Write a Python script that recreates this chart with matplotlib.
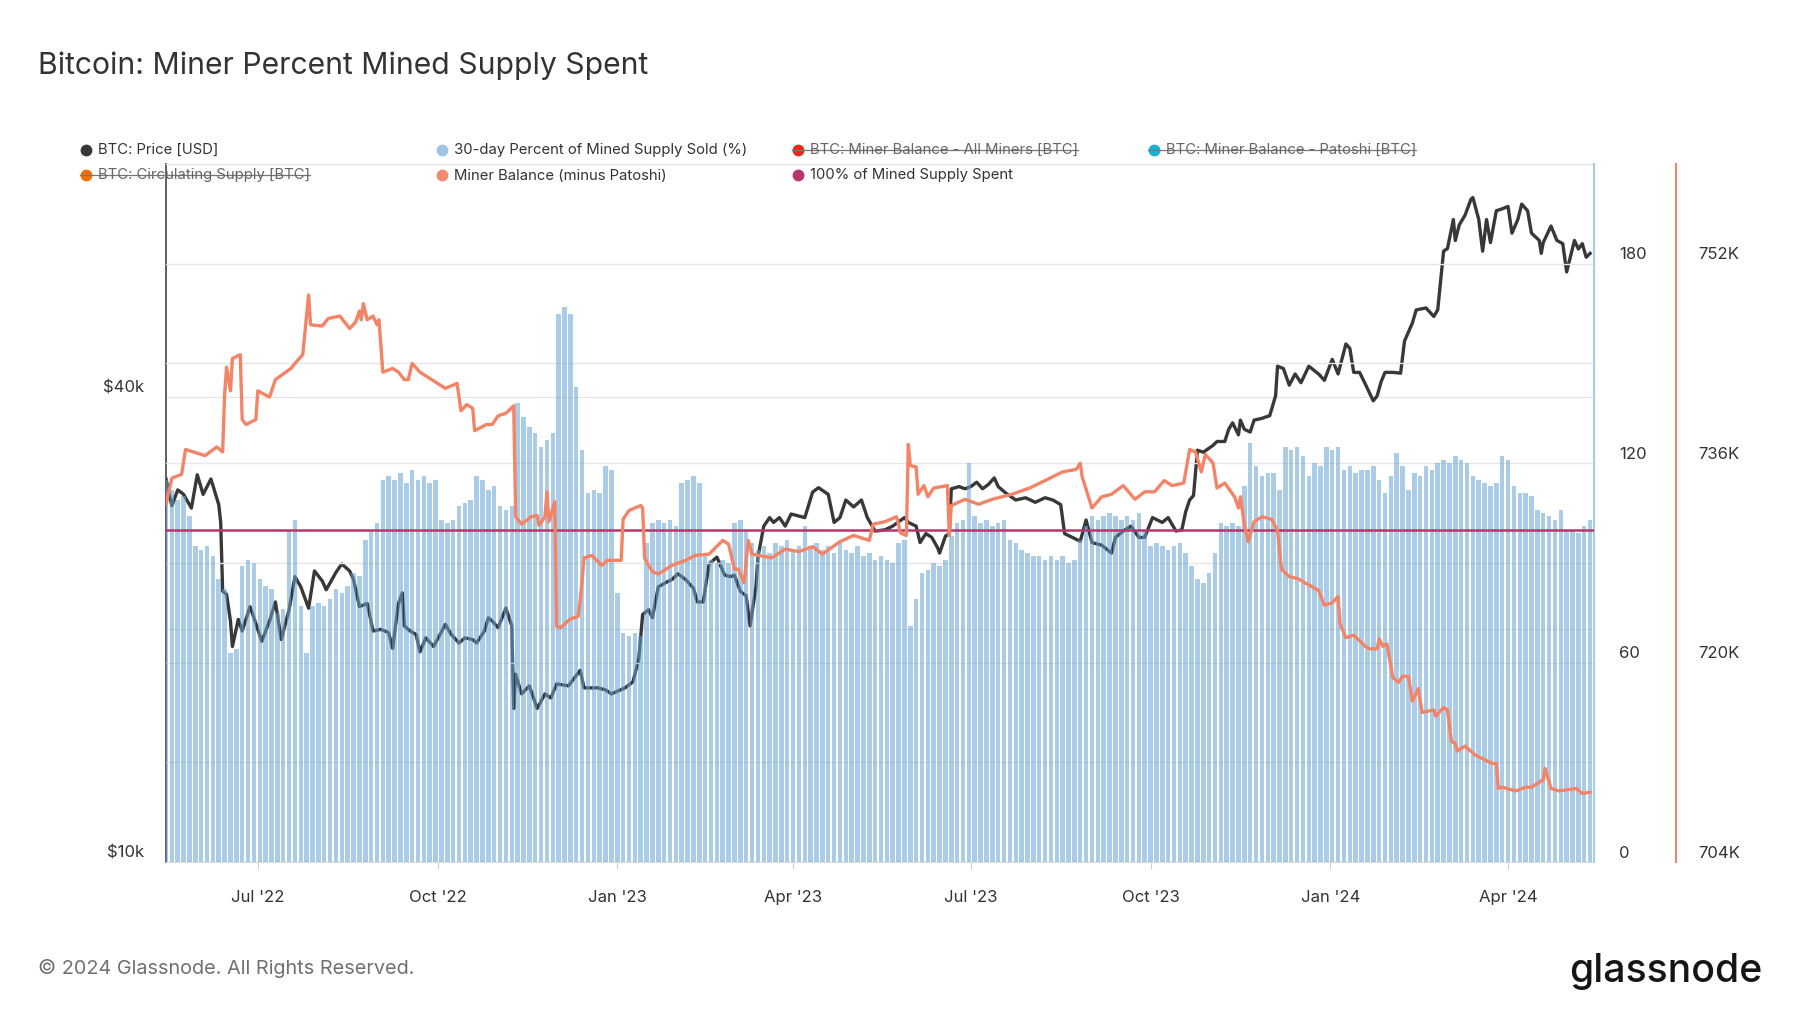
import matplotlib
matplotlib.use("Agg")
import matplotlib.pyplot as plt
import matplotlib.dates as mdates
from matplotlib.lines import Line2D
from matplotlib.ticker import NullLocator
import pandas as pd

# ---- data ----
# BTC price, thousands of USD
price_dates = [
    "2022-05-15", "2022-05-18", "2022-05-21", "2022-05-24", "2022-05-28", "2022-05-31",
    "2022-06-03", "2022-06-07", "2022-06-11", "2022-06-12", "2022-06-13", "2022-06-15",
    "2022-06-17", "2022-06-18", "2022-06-21", "2022-06-23", "2022-06-27", "2022-06-29",
    "2022-07-03", "2022-07-07", "2022-07-10", "2022-07-13", "2022-07-17", "2022-07-20",
    "2022-07-23", "2022-07-27", "2022-07-30", "2022-08-03", "2022-08-05", "2022-08-10",
    "2022-08-13", "2022-08-17", "2022-08-19", "2022-08-22", "2022-08-26", "2022-08-29",
    "2022-09-02", "2022-09-06", "2022-09-08", "2022-09-11", "2022-09-13", "2022-09-14",
    "2022-09-17", "2022-09-20", "2022-09-22", "2022-09-25", "2022-09-29", "2022-10-05",
    "2022-10-08", "2022-10-12", "2022-10-15", "2022-10-19", "2022-10-21", "2022-10-25",
    "2022-10-27", "2022-10-29", "2022-11-01", "2022-11-05", "2022-11-08", "2022-11-09",
    "2022-11-10", "2022-11-13", "2022-11-17", "2022-11-21", "2022-11-25", "2022-11-28",
    "2022-12-01", "2022-12-07", "2022-12-13", "2022-12-15", "2022-12-22", "2022-12-26",
    "2022-12-29", "2023-01-05", "2023-01-09", "2023-01-12", "2023-01-14", "2023-01-17",
    "2023-01-19", "2023-01-22", "2023-01-26", "2023-01-29", "2023-02-01", "2023-02-05",
    "2023-02-09", "2023-02-11", "2023-02-14", "2023-02-17", "2023-02-21", "2023-02-25",
    "2023-02-28", "2023-03-02", "2023-03-05", "2023-03-08", "2023-03-10", "2023-03-13",
    "2023-03-14", "2023-03-17", "2023-03-20", "2023-03-22", "2023-03-25", "2023-03-28",
    "2023-03-31", "2023-04-07", "2023-04-11", "2023-04-14", "2023-04-19", "2023-04-22",
    "2023-04-25", "2023-04-28", "2023-05-02", "2023-05-06", "2023-05-09", "2023-05-13",
    "2023-05-18", "2023-05-22", "2023-05-28", "2023-05-30", "2023-06-03", "2023-06-05",
    "2023-06-08", "2023-06-11", "2023-06-14", "2023-06-15", "2023-06-18", "2023-06-20",
    "2023-06-21", "2023-06-25", "2023-06-28", "2023-07-01", "2023-07-04", "2023-07-07",
    "2023-07-10", "2023-07-13", "2023-07-15", "2023-07-19", "2023-07-24", "2023-07-29",
    "2023-08-03", "2023-08-08", "2023-08-12", "2023-08-16", "2023-08-18", "2023-08-22",
    "2023-08-26", "2023-08-29", "2023-09-01", "2023-09-06", "2023-09-11", "2023-09-13",
    "2023-09-17", "2023-09-21", "2023-09-25", "2023-09-28", "2023-10-02", "2023-10-07",
    "2023-10-10", "2023-10-14", "2023-10-17", "2023-10-19", "2023-10-21", "2023-10-23",
    "2023-10-25", "2023-10-28", "2023-11-02", "2023-11-04", "2023-11-08", "2023-11-10",
    "2023-11-12", "2023-11-15", "2023-11-16", "2023-11-18", "2023-11-21", "2023-11-23",
    "2023-11-27", "2023-12-01", "2023-12-04", "2023-12-05", "2023-12-08", "2023-12-11",
    "2023-12-14", "2023-12-17", "2023-12-21", "2023-12-26", "2023-12-29", "2024-01-02",
    "2024-01-05", "2024-01-09", "2024-01-11", "2024-01-13", "2024-01-16", "2024-01-19",
    "2024-01-23", "2024-01-25", "2024-01-27", "2024-01-29", "2024-02-02", "2024-02-06",
    "2024-02-08", "2024-02-12", "2024-02-14", "2024-02-19", "2024-02-23", "2024-02-25",
    "2024-02-28", "2024-03-01", "2024-03-04", "2024-03-05", "2024-03-07", "2024-03-10",
    "2024-03-13", "2024-03-14", "2024-03-17", "2024-03-19", "2024-03-21", "2024-03-23",
    "2024-03-26", "2024-03-29", "2024-04-01", "2024-04-03", "2024-04-06", "2024-04-08",
    "2024-04-11", "2024-04-13", "2024-04-17", "2024-04-18", "2024-04-19", "2024-04-23",
    "2024-04-26", "2024-04-29", "2024-05-01", "2024-05-05", "2024-05-07", "2024-05-09",
    "2024-05-11", "2024-05-13",
]
price_k = [
    31.3, 28.9, 30.3, 29.9, 28.7, 31.7,
    29.9, 31.3, 29.0, 27.5, 22.4, 22.2,
    20.5, 19.0, 20.6, 19.9, 21.4, 20.7,
    19.3, 20.5, 21.7, 19.4, 21.2, 23.4,
    22.7, 21.3, 23.8, 23.1, 22.5, 23.7,
    24.3, 23.8, 23.2, 21.4, 21.6, 19.9,
    20.0, 19.8, 18.9, 21.6, 22.3, 20.2,
    19.9, 19.7, 18.7, 19.5, 19.0, 20.3,
    19.7, 19.2, 19.5, 19.4, 19.2, 19.9,
    20.7, 20.5, 20.1, 21.3, 20.2, 15.8,
    17.5, 16.5, 16.9, 15.8, 16.5, 16.3,
    17.0, 16.9, 17.7, 16.8, 16.8, 16.7,
    16.5, 16.8, 17.1, 18.3, 20.9, 21.2,
    20.7, 22.7, 23.0, 23.2, 23.6, 23.2,
    22.6, 21.7, 21.7, 24.3, 24.8, 23.5,
    23.4, 23.5, 22.4, 22.1, 20.2, 22.7,
    24.8, 27.2, 27.9, 27.5, 27.9, 27.2,
    28.2, 27.9, 30.1, 30.5, 29.9, 27.5,
    27.9, 29.4, 28.8, 29.4, 27.9, 26.8,
    26.9, 27.2, 27.9, 27.5, 27.2, 25.9,
    26.6, 26.3, 25.5, 25.1, 26.4, 26.6,
    30.4, 30.6, 30.4, 30.6, 31.0, 30.4,
    30.8, 31.4, 30.6, 30.0, 29.4, 29.6,
    29.2, 29.6, 29.4, 29.0, 26.6, 26.3,
    26.0, 27.7, 25.9, 25.7, 25.1, 26.3,
    26.8, 27.2, 26.3, 26.3, 27.9, 27.5,
    27.9, 26.8, 26.9, 28.4, 29.4, 29.8,
    34.1, 33.9, 34.6, 35.0, 35.0, 36.3,
    37.0, 35.7, 37.3, 36.3, 36.0, 37.3,
    37.5, 37.8, 40.1, 43.8, 43.5, 41.4,
    42.8, 41.7, 43.8, 42.8, 42.0, 44.7,
    42.8, 46.8, 46.2, 43.0, 43.0, 41.5,
    39.5, 40.1, 41.8, 43.0, 43.0, 42.9,
    47.2, 49.8, 51.8, 52.1, 50.8, 51.8,
    61.7, 62.2, 67.8, 63.7, 66.7, 68.7,
    72.0, 72.4, 67.8, 61.7, 67.8, 63.3,
    69.6, 70.0, 70.5, 65.1, 67.8, 71.0,
    69.6, 65.1, 63.7, 61.3, 63.3, 66.5,
    63.7, 63.1, 58.0, 63.7, 62.1, 63.1,
    60.6, 61.3,
]

# Miner balance (minus Patoshi), thousands of BTC
bal_dates = [
    "2022-05-15", "2022-05-18", "2022-05-23", "2022-05-25", "2022-06-04", "2022-06-10",
    "2022-06-13", "2022-06-14", "2022-06-15", "2022-06-17", "2022-06-18", "2022-06-22",
    "2022-06-23", "2022-06-25", "2022-06-30", "2022-07-01", "2022-07-07", "2022-07-10",
    "2022-07-18", "2022-07-20", "2022-07-24", "2022-07-27", "2022-07-28", "2022-08-03",
    "2022-08-06", "2022-08-12", "2022-08-17", "2022-08-20", "2022-08-22", "2022-08-23",
    "2022-08-24", "2022-08-26", "2022-08-29", "2022-08-31", "2022-09-01", "2022-09-03",
    "2022-09-08", "2022-09-11", "2022-09-14", "2022-09-16", "2022-09-18", "2022-09-22",
    "2022-09-28", "2022-10-05", "2022-10-11", "2022-10-13", "2022-10-16", "2022-10-19",
    "2022-10-20", "2022-10-26", "2022-10-29", "2022-11-01", "2022-11-05", "2022-11-09",
    "2022-11-10", "2022-11-13", "2022-11-18", "2022-11-21", "2022-11-22", "2022-11-25",
    "2022-11-26", "2022-11-27", "2022-11-30", "2022-12-01", "2022-12-03", "2022-12-08",
    "2022-12-12", "2022-12-13", "2022-12-15", "2022-12-19", "2022-12-24", "2022-12-27",
    "2023-01-03", "2023-01-04", "2023-01-07", "2023-01-13", "2023-01-14", "2023-01-15",
    "2023-01-17", "2023-01-19", "2023-01-22", "2023-01-29", "2023-02-05", "2023-02-10",
    "2023-02-17", "2023-02-24", "2023-02-27", "2023-03-02", "2023-03-04", "2023-03-07",
    "2023-03-09", "2023-03-11", "2023-03-21", "2023-03-28", "2023-04-04", "2023-04-11",
    "2023-04-16", "2023-04-25", "2023-05-02", "2023-05-10", "2023-05-12", "2023-05-18",
    "2023-05-24", "2023-05-26", "2023-05-29", "2023-05-30", "2023-05-31", "2023-06-03",
    "2023-06-04", "2023-06-07", "2023-06-09", "2023-06-12", "2023-06-19", "2023-06-20",
    "2023-06-21", "2023-06-28", "2023-07-05", "2023-07-12", "2023-07-22", "2023-07-31",
    "2023-08-08", "2023-08-17", "2023-08-24", "2023-08-26", "2023-08-27", "2023-09-01",
    "2023-09-06", "2023-09-11", "2023-09-17", "2023-09-23", "2023-09-28", "2023-10-03",
    "2023-10-08", "2023-10-12", "2023-10-18", "2023-10-21", "2023-10-24", "2023-10-27",
    "2023-10-29", "2023-11-02", "2023-11-04", "2023-11-08", "2023-11-13", "2023-11-15",
    "2023-11-16", "2023-11-18", "2023-11-20", "2023-11-23", "2023-11-27", "2023-12-02",
    "2023-12-05", "2023-12-07", "2023-12-11", "2023-12-16", "2023-12-19", "2023-12-26",
    "2023-12-29", "2024-01-02", "2024-01-05", "2024-01-06", "2024-01-09", "2024-01-13",
    "2024-01-19", "2024-01-21", "2024-01-25", "2024-01-26", "2024-01-28", "2024-01-30",
    "2024-02-02", "2024-02-05", "2024-02-07", "2024-02-10", "2024-02-12", "2024-02-15",
    "2024-02-17", "2024-02-23", "2024-02-24", "2024-02-28", "2024-03-01", "2024-03-03",
    "2024-03-05", "2024-03-06", "2024-03-10", "2024-03-15", "2024-03-24", "2024-03-26",
    "2024-03-27", "2024-03-29", "2024-04-05", "2024-04-10", "2024-04-13", "2024-04-19",
    "2024-04-20", "2024-04-23", "2024-04-27", "2024-05-06", "2024-05-09", "2024-05-13",
]
bal_k = [
    732.7, 734.8, 735.1, 737.1, 736.6, 737.3,
    736.9, 741.5, 743.7, 741.8, 744.4, 744.7,
    739.5, 739.1, 739.5, 741.8, 741.3, 742.7,
    743.6, 744.0, 744.7, 749.5, 747.1, 747.0,
    747.6, 747.8, 746.8, 747.3, 748.2, 747.5,
    748.8, 747.5, 747.8, 747.1, 747.5, 743.3,
    743.6, 743.3, 742.7, 742.7, 744.0, 743.3,
    742.7, 742.0, 742.4, 740.2, 740.7, 740.4,
    738.6, 739.1, 739.1, 739.8, 740.0, 740.6,
    731.7, 731.1, 731.7, 731.8, 731.0, 731.7,
    733.7, 731.3, 732.9, 722.9, 722.8, 723.5,
    723.7, 724.9, 728.4, 728.6, 727.8, 728.2,
    728.2, 731.5, 732.2, 732.6, 732.4, 728.4,
    727.8, 727.3, 727.1, 727.8, 728.2, 728.6,
    728.7, 729.8, 729.5, 727.5, 727.5, 726.4,
    729.8, 728.7, 728.4, 729.1, 728.9, 729.3,
    728.7, 729.7, 730.2, 729.8, 731.1, 731.3,
    731.7, 730.4, 730.2, 737.5, 735.8, 735.7,
    733.5, 734.2, 733.3, 734.0, 734.2, 730.2,
    732.6, 733.1, 732.7, 733.1, 733.5, 734.0,
    734.6, 735.3, 735.5, 736.0, 734.9, 732.4,
    733.3, 733.5, 734.2, 733.1, 733.7, 733.7,
    734.6, 734.2, 734.4, 737.1, 736.9, 735.3,
    736.7, 736.0, 734.0, 734.4, 733.3, 732.4,
    733.3, 731.1, 729.7, 731.3, 731.7, 731.5,
    730.6, 727.5, 726.9, 726.7, 726.4, 725.8,
    724.6, 724.8, 725.3, 723.1, 722.0, 722.2,
    721.3, 721.1, 721.1, 721.9, 721.3, 721.5,
    718.8, 718.4, 718.9, 718.9, 716.9, 717.9,
    716.0, 716.2, 715.7, 716.4, 716.2, 713.7,
    713.5, 712.9, 713.3, 712.6, 711.9, 711.9,
    709.9, 710.0, 709.7, 710.0, 710.0, 710.6,
    711.5, 709.9, 709.7, 709.9, 709.5, 709.6,
]

# 30-day percent of mined supply sold, one value every 3 days from pct_start
pct_start = "2022-05-15"
pct_step_days = 3
pct_sold = [
    115, 112, 109, 110, 104, 95, 94, 95, 92, 85,
    82, 63, 64, 89, 91, 90, 85, 83, 82, 75,
    76, 100, 103, 77, 63, 77, 78, 77, 79, 82,
    81, 83, 87, 86, 97, 100, 102, 115, 116, 115,
    117, 114, 118, 115, 116, 114, 115, 103, 102, 103,
    107, 108, 109, 116, 115, 112, 113, 107, 106, 107,
    138, 134, 131, 129, 125, 127, 129, 165, 167, 165,
    143, 124, 111, 112, 111, 119, 118, 81, 69, 68,
    69, 68, 96, 102, 103, 102, 103, 101, 114, 115,
    116, 114, 92, 91, 90, 91, 90, 102, 103, 100,
    96, 94, 95, 93, 96, 95, 97, 94, 95, 101,
    95, 96, 94, 95, 93, 96, 94, 93, 95, 92,
    93, 91, 92, 91, 90, 96, 97, 71, 79, 87,
    88, 90, 89, 91, 98, 102, 103, 120, 104, 102,
    103, 101, 102, 103, 97, 96, 94, 93, 92, 92,
    91, 92, 91, 92, 90, 91, 97, 101, 104, 103,
    104, 105, 104, 103, 104, 103, 105, 100, 95, 96,
    95, 94, 95, 96, 93, 89, 85, 84, 87, 93,
    102, 101, 102, 101, 113, 126, 119, 116, 117, 117,
    112, 125, 124, 125, 122, 116, 120, 119, 125, 124,
    125, 118, 119, 117, 118, 118, 119, 115, 111, 116,
    123, 119, 112, 117, 116, 119, 118, 120, 121, 120,
    122, 121, 120, 116, 115, 114, 113, 114, 122, 121,
    113, 111, 111, 110, 106, 105, 104, 103, 106, 100,
    100, 99, 101, 103,
]
spent_level = 100

price_ticks = [10, 40]
price_labels = ["$10k", "$40k"]
pct_ticks = [0, 60, 120, 180]
bal_ticks = [704, 720, 736, 752]
bal_labels = ["704K", "720K", "736K", "752K"]

C_PRICE = "#383838"
C_BAR = "#66a3d4"
C_BAL = "#f38467"
C_SPENT = "#b5376b"
C_TEXT = "#333333"
C_GRID = "#e6e6e6"
FONT = "Inter"

# ---- figure ----
W, H = 1800, 1013
fig = plt.figure(figsize=(W / 100, H / 100), dpi=100)
L, R, T, B = 166, 1594, 164, 862
ax = fig.add_axes([L / W, 1 - B / H, (R - L) / W, (B - T) / H])

pdates = pd.to_datetime(price_dates)
bdates = pd.to_datetime(bal_dates)
bar_dates = pd.date_range(pct_start, periods=len(pct_sold), freq=f"{pct_step_days}D")

# price (log) on the base axes, so the bars tint it
ax.plot(pdates, price_k, color=C_PRICE, lw=2.4, solid_joinstyle="round")
ax.set_yscale("log")
ax.set_ylim(10, 80)
ax.yaxis.set_major_locator(plt.FixedLocator([10, 20, 40, 80]))
ax.yaxis.set_minor_locator(NullLocator())
ax.yaxis.grid(True, color=C_GRID, lw=1.0)
ax.tick_params(axis="y", length=0, labelleft=False)
ax.set_xlim(pd.Timestamp("2022-05-15"), pd.Timestamp("2024-05-15"))
ax.xaxis.set_major_locator(mdates.MonthLocator(bymonth=[1, 4, 7, 10]))
ax.xaxis.set_major_formatter(mdates.DateFormatter("%b '%y"))
ax.tick_params(axis="x", length=5, color="#cccccc", pad=15.5, labelsize=12,
               labelcolor=C_TEXT)
for lbl in ax.get_xticklabels():
    lbl.set_family(FONT)
ax.spines["left"].set_color("#444444")
ax.spines["left"].set_linewidth(1.2)
ax.spines["top"].set_color("#dddddd")
ax.spines["bottom"].set_color("#dddddd")
ax.spines["right"].set_visible(False)

# percent bars
axp = ax.twinx()
axp.bar(bar_dates, pct_sold, width=2.3, color=C_BAR, alpha=0.55, linewidth=0)
axp.axhline(spent_level, color=C_SPENT, lw=1.8, zorder=6)
axp.set_ylim(0, 210)
axp.yaxis.set_major_locator(plt.MultipleLocator(30))
axp.yaxis.grid(True, color=C_GRID, lw=1.0)
axp.set_axisbelow(True)
axp.tick_params(axis="y", length=0, labelright=False)
for s in ["left", "top", "bottom"]:
    axp.spines[s].set_visible(False)
axp.spines["right"].set_color("#a8cbe8")
axp.spines["right"].set_linewidth(1.5)

# miner balance on its own axis
axb = ax.twinx()
axb.plot(bdates, bal_k, color=C_BAL, lw=2.4, solid_joinstyle="round")
axb.set_ylim(704, 760)
axb.tick_params(axis="y", length=0, labelright=False)
for s in ["left", "top", "bottom"]:
    axb.spines[s].set_visible(False)
axb.spines["right"].set_position(("axes", 1 + 82 / (R - L)))
axb.spines["right"].set_color(C_BAL)
axb.spines["right"].set_linewidth(1.5)

lab = dict(fontsize=12, color=C_TEXT, family=FONT, va="center",
           textcoords="offset pixels")
for v, s in zip(price_ticks, price_labels):
    ax.annotate(s, xy=(0, v), xycoords=("axes fraction", "data"),
                xytext=(-22, 9), ha="right", **lab)
for v in pct_ticks:
    axp.annotate(str(v), xy=(1, v), xycoords=("axes fraction", "data"),
                 xytext=(25, 9), ha="left", **lab)
for v, s in zip(bal_ticks, bal_labels):
    axb.annotate(s, xy=(1, v), xycoords=("axes fraction", "data"),
                 xytext=(104, 9), ha="left", **lab)

# title and footer
fig.text(38 / W, 1 - 66 / H, "Bitcoin: Miner Percent Mined Supply Spent",
         fontsize=21.7, family=FONT, color=C_TEXT, va="center")
fig.text(38 / W, 1 - 968 / H, "\u00a9 2024 Glassnode. All Rights Reserved.",
         fontsize=14.3, family=FONT, color="#707070", va="center")
fig.text(1762 / W, 1 - 971 / H, "glassnode", fontsize=28.2, family=FONT,
         weight="medium", color="#151515", ha="right", va="center")

# legend
legend = [
    ("BTC: Price [USD]", C_PRICE, False, 86, 150),
    ("30-day Percent of Mined Supply Sold (%)", "#9fc5e3", False, 442, 150),
    ("BTC: Miner Balance - All Miners [BTC]", "#e8291c", True, 798, 150),
    ("BTC: Miner Balance - Patoshi [BTC]", "#17b2d6", True, 1154, 150),
    ("BTC: Circulating Supply [BTC]", "#f26f05", True, 86, 175.5),
    ("Miner Balance (minus Patoshi)", "#f28a70", False, 442, 175.5),
    ("100% of Mined Supply Spent", C_SPENT, False, 798, 175.5),
]
struck = []
for name, col, off, x, y in legend:
    fig.add_artist(Line2D([x / W], [1 - y / H], marker="o", ms=7.5, color=col,
                          mec=col, transform=fig.transFigure))
    t = fig.text((x + 11.5) / W, 1 - y / H, name, fontsize=10.7, family=FONT,
                 color="#666666" if off else C_TEXT, va="center")
    if off:
        struck.append((t, x, y))

fig.canvas.draw()
rend = fig.canvas.get_renderer()
for t, x, y in struck:
    bb = t.get_window_extent(rend)
    ym = (bb.y0 + bb.y1) / 2 / fig.bbox.height
    fig.add_artist(Line2D([(x - 6) / W, bb.x1 / fig.bbox.width], [ym, ym],
                          color="#777777", lw=0.9, transform=fig.transFigure))

fig.savefig("out.png", dpi=100)
